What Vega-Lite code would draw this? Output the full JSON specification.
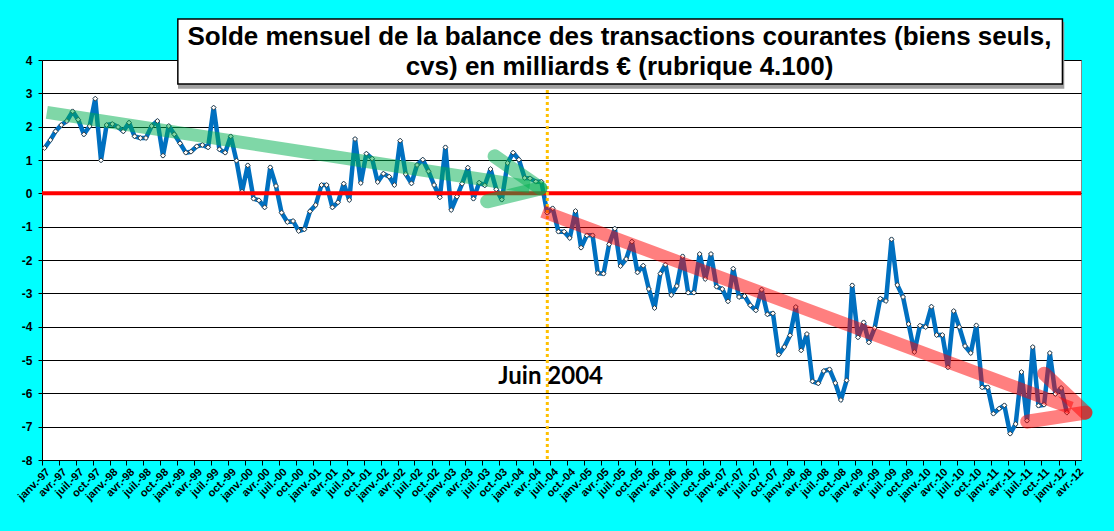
{
  "$schema": "https://vega.github.io/schema/vega-lite/v6.json",
  "width": 1039,
  "height": 400,
  "autosize": {"type": "none"},
  "padding": {"left": 42, "top": 60, "right": 33, "bottom": 71},
  "background": "#00ffff",
  "datasets": {
    "solde": [
      {"t": "1997-01-15", "v": 1.36}, {"t": "1997-02-15", "v": 1.60}, {"t": "1997-03-15", "v": 1.86},
      {"t": "1997-04-15", "v": 2.05}, {"t": "1997-05-15", "v": 2.17}, {"t": "1997-06-15", "v": 2.46},
      {"t": "1997-07-15", "v": 2.21}, {"t": "1997-08-15", "v": 1.77}, {"t": "1997-09-15", "v": 2.02},
      {"t": "1997-10-15", "v": 2.84}, {"t": "1997-11-15", "v": 0.99}, {"t": "1997-12-15", "v": 2.05},
      {"t": "1998-01-15", "v": 2.08}, {"t": "1998-02-15", "v": 1.99}, {"t": "1998-03-15", "v": 1.86},
      {"t": "1998-04-15", "v": 2.12}, {"t": "1998-05-15", "v": 1.71}, {"t": "1998-06-15", "v": 1.66},
      {"t": "1998-07-15", "v": 1.66}, {"t": "1998-08-15", "v": 2.02}, {"t": "1998-09-15", "v": 2.17},
      {"t": "1998-10-15", "v": 1.13}, {"t": "1998-11-15", "v": 2.02}, {"t": "1998-12-15", "v": 1.77},
      {"t": "1999-01-15", "v": 1.50}, {"t": "1999-02-15", "v": 1.22}, {"t": "1999-03-15", "v": 1.25},
      {"t": "1999-04-15", "v": 1.41}, {"t": "1999-05-15", "v": 1.45}, {"t": "1999-06-15", "v": 1.38},
      {"t": "1999-07-15", "v": 2.57}, {"t": "1999-08-15", "v": 1.32}, {"t": "1999-09-15", "v": 1.22},
      {"t": "1999-10-15", "v": 1.71}, {"t": "1999-11-15", "v": 0.98}, {"t": "1999-12-15", "v": 0.05},
      {"t": "2000-01-15", "v": 0.84}, {"t": "2000-02-15", "v": -0.16}, {"t": "2000-03-15", "v": -0.21},
      {"t": "2000-04-15", "v": -0.42}, {"t": "2000-05-15", "v": 0.78}, {"t": "2000-06-15", "v": 0.22},
      {"t": "2000-07-15", "v": -0.58}, {"t": "2000-08-15", "v": -0.86}, {"t": "2000-09-15", "v": -0.83},
      {"t": "2000-10-15", "v": -1.13}, {"t": "2000-11-15", "v": -1.08}, {"t": "2000-12-15", "v": -0.54},
      {"t": "2001-01-15", "v": -0.35}, {"t": "2001-02-15", "v": 0.25}, {"t": "2001-03-15", "v": 0.25},
      {"t": "2001-04-15", "v": -0.42}, {"t": "2001-05-15", "v": -0.27}, {"t": "2001-06-15", "v": 0.29},
      {"t": "2001-07-15", "v": -0.20}, {"t": "2001-08-15", "v": 1.63}, {"t": "2001-09-15", "v": 0.31},
      {"t": "2001-10-15", "v": 1.19}, {"t": "2001-11-15", "v": 1.04}, {"t": "2001-12-15", "v": 0.34},
      {"t": "2002-01-15", "v": 0.59}, {"t": "2002-02-15", "v": 0.50}, {"t": "2002-03-15", "v": 0.25},
      {"t": "2002-04-15", "v": 1.58}, {"t": "2002-05-15", "v": 0.58}, {"t": "2002-06-15", "v": 0.30},
      {"t": "2002-07-15", "v": 0.85}, {"t": "2002-08-15", "v": 1.01}, {"t": "2002-09-15", "v": 0.66},
      {"t": "2002-10-15", "v": 0.25}, {"t": "2002-11-15", "v": -0.12}, {"t": "2002-12-15", "v": 1.38},
      {"t": "2003-01-15", "v": -0.50}, {"t": "2003-02-15", "v": -0.10}, {"t": "2003-03-15", "v": 0.29},
      {"t": "2003-04-15", "v": 0.77}, {"t": "2003-05-15", "v": -0.16}, {"t": "2003-06-15", "v": 0.32},
      {"t": "2003-07-15", "v": 0.24}, {"t": "2003-08-15", "v": 0.73}, {"t": "2003-09-15", "v": 0.12},
      {"t": "2003-10-15", "v": -0.19}, {"t": "2003-11-15", "v": 0.91}, {"t": "2003-12-15", "v": 1.22},
      {"t": "2004-01-15", "v": 1.01}, {"t": "2004-02-15", "v": 0.46}, {"t": "2004-03-15", "v": 0.45},
      {"t": "2004-04-15", "v": 0.35}, {"t": "2004-05-15", "v": 0.35}, {"t": "2004-06-15", "v": -0.58},
      {"t": "2004-07-15", "v": -0.45}, {"t": "2004-08-15", "v": -1.15}, {"t": "2004-09-15", "v": -1.15},
      {"t": "2004-10-15", "v": -1.34}, {"t": "2004-11-15", "v": -0.53}, {"t": "2004-12-15", "v": -1.63},
      {"t": "2005-01-15", "v": -1.26}, {"t": "2005-02-15", "v": -1.26}, {"t": "2005-03-15", "v": -2.39},
      {"t": "2005-04-15", "v": -2.41}, {"t": "2005-05-15", "v": -1.53}, {"t": "2005-06-15", "v": -1.06},
      {"t": "2005-07-15", "v": -2.18}, {"t": "2005-08-15", "v": -1.97}, {"t": "2005-09-15", "v": -1.45},
      {"t": "2005-10-15", "v": -2.37}, {"t": "2005-11-15", "v": -2.17}, {"t": "2005-12-15", "v": -2.87},
      {"t": "2006-01-15", "v": -3.44}, {"t": "2006-02-15", "v": -2.41}, {"t": "2006-03-15", "v": -2.14},
      {"t": "2006-04-15", "v": -3.05}, {"t": "2006-05-15", "v": -2.78}, {"t": "2006-06-15", "v": -1.89},
      {"t": "2006-07-15", "v": -2.98}, {"t": "2006-08-15", "v": -2.98}, {"t": "2006-09-15", "v": -1.82},
      {"t": "2006-10-15", "v": -2.57}, {"t": "2006-11-15", "v": -1.82}, {"t": "2006-12-15", "v": -2.80},
      {"t": "2007-01-15", "v": -2.87}, {"t": "2007-02-15", "v": -3.24}, {"t": "2007-03-15", "v": -2.26},
      {"t": "2007-04-15", "v": -3.11}, {"t": "2007-05-15", "v": -3.08}, {"t": "2007-06-15", "v": -3.36},
      {"t": "2007-07-15", "v": -3.51}, {"t": "2007-08-15", "v": -2.89}, {"t": "2007-09-15", "v": -3.63},
      {"t": "2007-10-15", "v": -3.60}, {"t": "2007-11-15", "v": -4.84}, {"t": "2007-12-15", "v": -4.61},
      {"t": "2008-01-15", "v": -4.26}, {"t": "2008-02-15", "v": -3.41}, {"t": "2008-03-15", "v": -4.71},
      {"t": "2008-04-15", "v": -4.22}, {"t": "2008-05-15", "v": -5.64}, {"t": "2008-06-15", "v": -5.70},
      {"t": "2008-07-15", "v": -5.33}, {"t": "2008-08-15", "v": -5.28}, {"t": "2008-09-15", "v": -5.69},
      {"t": "2008-10-15", "v": -6.20}, {"t": "2008-11-15", "v": -5.61}, {"t": "2008-12-15", "v": -2.76},
      {"t": "2009-01-15", "v": -4.32}, {"t": "2009-02-15", "v": -3.87}, {"t": "2009-03-15", "v": -4.47},
      {"t": "2009-04-15", "v": -4.04}, {"t": "2009-05-15", "v": -3.16}, {"t": "2009-06-15", "v": -3.23},
      {"t": "2009-07-15", "v": -1.38}, {"t": "2009-08-15", "v": -2.75}, {"t": "2009-09-15", "v": -3.11},
      {"t": "2009-10-15", "v": -3.92}, {"t": "2009-11-15", "v": -4.76}, {"t": "2009-12-15", "v": -3.97},
      {"t": "2010-01-15", "v": -4.01}, {"t": "2010-02-15", "v": -3.40}, {"t": "2010-03-15", "v": -4.25},
      {"t": "2010-04-15", "v": -4.25}, {"t": "2010-05-15", "v": -5.22}, {"t": "2010-06-15", "v": -3.53},
      {"t": "2010-07-15", "v": -4.01}, {"t": "2010-08-15", "v": -4.58}, {"t": "2010-09-15", "v": -4.79},
      {"t": "2010-10-15", "v": -3.96}, {"t": "2010-11-15", "v": -5.82}, {"t": "2010-12-15", "v": -5.82},
      {"t": "2011-01-15", "v": -6.61}, {"t": "2011-02-15", "v": -6.46}, {"t": "2011-03-15", "v": -6.36},
      {"t": "2011-04-15", "v": -7.21}, {"t": "2011-05-15", "v": -6.92}, {"t": "2011-06-15", "v": -5.36},
      {"t": "2011-07-15", "v": -6.82}, {"t": "2011-08-15", "v": -4.61}, {"t": "2011-09-15", "v": -6.37},
      {"t": "2011-10-15", "v": -6.34}, {"t": "2011-11-15", "v": -4.79}, {"t": "2011-12-15", "v": -6.02},
      {"t": "2012-01-15", "v": -5.84}, {"t": "2012-02-15", "v": -6.58}
    ],
    "reperes": [
      {"role": "zero", "t": "1997-01-01", "v": 0, "t2": "2012-05-01", "v2": 0},
      {"role": "juin", "t": "2004-06-16", "v": 4, "t2": "2004-06-16", "v2": -8}
    ],
    "fleches": [
      {"fleche": "verte", "partie": "tige", "t": "1997-01-27", "v": 2.43, "t2": "2004-03-13", "v2": 0.20},
      {"fleche": "verte", "partie": "pointe", "t": "2003-09-06", "v": 1.11, "t2": "2004-05-10", "v2": 0.15},
      {"fleche": "verte", "partie": "pointe", "t": "2003-07-28", "v": -0.24, "t2": "2004-05-10", "v2": 0.15},
      {"fleche": "rouge", "partie": "tige", "t": "2004-05-22", "v": -0.54, "t2": "2012-03-10", "v2": -6.44},
      {"fleche": "rouge", "partie": "pointe", "t": "2011-10-16", "v": -5.41, "t2": "2012-05-25", "v2": -6.58},
      {"fleche": "rouge", "partie": "pointe", "t": "2011-07-16", "v": -6.85, "t2": "2012-05-25", "v2": -6.58}
    ],
    "cadre": [
      {"role": "ombre", "t": "1999-01-08", "v": 5.12, "t2": "2012-01-28", "v2": 3.16},
      {"role": "cadre", "t": "1999-01-03", "v": 5.23, "t2": "2012-01-22", "v2": 3.28}
    ],
    "textes": [
      {"role": "titre", "texte": "Solde mensuel de la balance des transactions courantes (biens seuls,", "t": "2005-07-10", "v": 4.69},
      {"role": "titre", "texte": "cvs) en milliards € (rubrique 4.100)", "t": "2005-07-10", "v": 3.79},
      {"role": "note", "texte": "Juin 2004", "t": "2004-07-04", "v": -5.5}
    ]
  },
  "encoding": {
    "x": {
      "field": "t", "type": "temporal",
      "scale": {
        "type": "utc",
        "domain": [{"year": 1997, "month": 1, "date": 1, "utc": true}, {"year": 2012, "month": 5, "date": 1, "utc": true}]
      },
      "axis": {
        "title": null,
        "grid": false,
        "tickCount": {"interval": "month", "step": 3},
        "labelExpr": "['janv.','févr.','mars','avr.','mai','juin','juil.','août','sept.','oct.','nov.','déc.'][utcmonth(datum.value)] + '-' + utcFormat(datum.value, '%y')",
        "labelAngle": -45,
        "labelAlign": "right",
        "labelBaseline": "middle",
        "labelFontSize": 11,
        "labelOffset": 6,
        "labelPadding": 5,
        "labelOverlap": false,
        "labelFlush": false,
        "labelBound": false,
        "tickSize": 5
      }
    },
    "y": {
      "field": "v", "type": "quantitative",
      "scale": {"domain": [-8, 4], "nice": false, "zero": false},
      "axis": {
        "title": null,
        "values": [-8, -7, -6, -5, -4, -3, -2, -1, 0, 1, 2, 3, 4],
        "labelExpr": "datum.value + ''",
        "labelOverlap": false,
        "grid": true,
        "labelFontSize": 12,
        "labelPadding": 6,
        "tickSize": 4
      }
    }
  },
  "layer": [
    {
      "data": {"name": "solde"},
      "mark": {"type": "line", "color": "#0070c0", "strokeWidth": 4.5, "strokeJoin": "round"}
    },
    {
      "data": {"name": "solde"},
      "mark": {"type": "point", "shape": "diamond", "filled": true, "fill": "white", "stroke": "#333333", "strokeWidth": 0.9, "size": 24, "opacity": 1}
    },
    {
      "data": {"name": "reperes"},
      "transform": [{"filter": "datum.role === 'zero'"}],
      "mark": {"type": "rule", "color": "#ff0000", "strokeWidth": 4},
      "encoding": {"x2": {"field": "t2"}, "y2": {"field": "v2"}}
    },
    {
      "data": {"name": "reperes"},
      "transform": [{"filter": "datum.role === 'juin'"}],
      "mark": {"type": "rule", "color": "#ffc000", "strokeWidth": 3, "strokeDash": [3, 3]},
      "encoding": {"x2": {"field": "t2"}, "y2": {"field": "v2"}}
    },
    {
      "data": {"name": "fleches"},
      "transform": [{"filter": "datum.partie === 'tige'"}],
      "mark": {"type": "rule", "strokeWidth": 13, "strokeCap": "butt", "opacity": 0.5},
      "encoding": {
        "x2": {"field": "t2"},
        "y2": {"field": "v2"},
        "color": {"field": "fleche", "type": "nominal", "scale": {"domain": ["verte", "rouge"], "range": ["#00b050", "#ff0000"]}, "legend": null}
      }
    },
    {
      "data": {"name": "fleches"},
      "transform": [{"filter": "datum.partie === 'pointe'"}],
      "mark": {"type": "rule", "strokeWidth": 14, "strokeCap": "round", "opacity": 0.5},
      "encoding": {
        "x2": {"field": "t2"},
        "y2": {"field": "v2"},
        "color": {"field": "fleche", "type": "nominal", "legend": null}
      }
    },
    {
      "data": {"name": "textes"},
      "transform": [{"filter": "datum.role === 'note'"}],
      "mark": {"type": "text", "font": "Lato", "fontSize": 24, "fontWeight": "bold", "color": "black", "align": "center", "baseline": "middle"},
      "encoding": {"text": {"field": "texte"}}
    },
    {
      "data": {"name": "cadre"},
      "mark": {"type": "rect", "strokeWidth": 1.5},
      "encoding": {
        "x2": {"field": "t2"},
        "y2": {"field": "v2"},
        "fill": {"field": "role", "type": "nominal", "scale": {"domain": ["ombre", "cadre"], "range": ["#a0a0a0", "#ffffff"]}, "legend": null},
        "stroke": {"field": "role", "type": "nominal", "scale": {"domain": ["ombre", "cadre"], "range": ["#a0a0a0", "#000000"]}, "legend": null},
        "order": {"field": "role", "sort": "descending"}
      }
    },
    {
      "data": {"name": "textes"},
      "transform": [{"filter": "datum.role === 'titre'"}],
      "mark": {"type": "text", "font": "Liberation Sans", "fontSize": 26, "fontWeight": "bold", "color": "black", "align": "center", "baseline": "middle"},
      "encoding": {"text": {"field": "texte"}}
    }
  ],
  "config": {
    "view": {"fill": "white", "stroke": "#888888", "strokeWidth": 1},
    "axis": {
      "labelFont": "Liberation Sans",
      "labelFontWeight": "bold",
      "labelColor": "black",
      "domainColor": "black",
      "domainWidth": 1,
      "tickColor": "black",
      "gridColor": "black",
      "gridWidth": 1,
      "gridOpacity": 1
    }
  }
}
